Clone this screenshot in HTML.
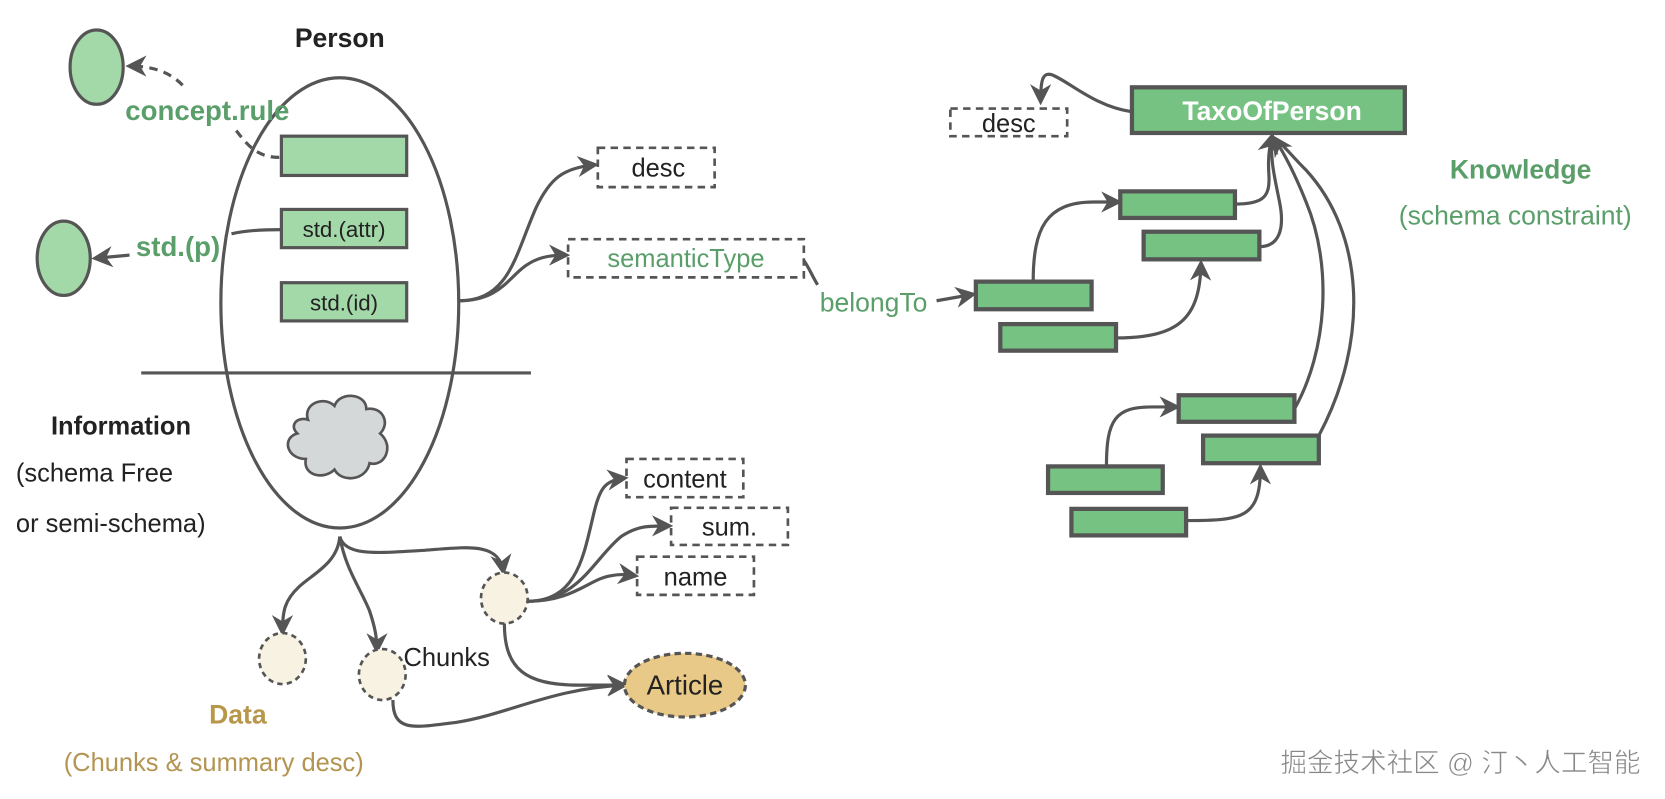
<!DOCTYPE html>
<html><head><meta charset="utf-8"><style>
html,body{margin:0;padding:0;background:#fff;}
svg{display:block;}
text{font-family:"Liberation Sans","Noto Sans CJK SC",sans-serif;}
</style></head><body>
<svg width="1665" height="799" viewBox="0 0 1568 752" xmlns="http://www.w3.org/2000/svg">
<defs>
<marker id="ar" viewBox="0 0 10 10" refX="8" refY="5" markerWidth="20" markerHeight="20" orient="auto" markerUnits="userSpaceOnUse"><path d="M0,0 L10,5 L0,10 L3,5 z" fill="#555"/></marker>
</defs>
<g stroke="#555" stroke-width="3" fill="none">
<ellipse cx="91" cy="63" rx="25" ry="35" fill="#a3d8a8"/>
<ellipse cx="60" cy="243" rx="25" ry="35" fill="#a3d8a8"/>
<path d="M172,80 C160,68 145,62 122,62" stroke-dasharray="8,6" marker-end="url(#ar)"/>
<path d="M263,148 C245,148 235,140 222,122" stroke-dasharray="8,6"/>
<path d="M265,216 C245,216 230,217 218,220"/>
<path d="M122,240 L90,243" marker-end="url(#ar)"/>
<ellipse cx="320" cy="285" rx="112" ry="212" fill="none"/>
<rect x="265" y="128" width="118" height="37" fill="#a3d8a8"/>
<rect x="265" y="197" width="118" height="36" fill="#a3d8a8"/>
<rect x="265" y="266" width="118" height="36" fill="#a3d8a8"/>
<line x1="133" y1="351" x2="500" y2="351"/>
<rect x="563" y="139" width="110" height="37" stroke-dasharray="7,5" stroke-width="2.5"/>
<rect x="535" y="225" width="222" height="36" stroke-dasharray="7,5" stroke-width="2.5"/>
<path d="M432,283 C480,283 485,240 505,195 C518,168 530,158 560,155" marker-end="url(#ar)"/>
<path d="M432,283 C470,283 478,262 495,250 C505,243 515,240 533,240" marker-end="url(#ar)"/>
<path d="M757,245 C762,252 765,260 770,268"/>
<path d="M882,283 L916,277" marker-end="url(#ar)"/>
<path d="M290,395 C285,380 305,372 315,382 C320,368 345,370 345,385 C360,382 368,398 358,408 C372,420 362,440 348,436 C345,452 322,455 315,442 C305,452 285,448 288,432 C270,432 265,412 280,408 C272,400 280,392 290,395 z" fill="#d5d8d8" stroke-width="2.5"/>
<path d="M320,505 C318,530 295,540 282,552 C268,565 266,575 266,595" marker-end="url(#ar)"/>
<path d="M320,505 C325,535 340,555 348,575 C353,590 355,600 355,612" marker-end="url(#ar)"/>
<path d="M320,505 C325,525 360,520 400,518 C440,515 470,510 474,538" marker-end="url(#ar)"/>
<ellipse cx="266" cy="620" rx="22" ry="24" fill="#f7f2e2" stroke-dasharray="5,4" stroke-width="2.5"/>
<ellipse cx="360" cy="635" rx="22" ry="24" fill="#f7f2e2" stroke-dasharray="5,4" stroke-width="2.5"/>
<ellipse cx="475" cy="563" rx="22" ry="24" fill="#f7f2e2" stroke-dasharray="5,4" stroke-width="2.5"/>
<rect x="590" y="432" width="110" height="36" stroke-dasharray="7,5" stroke-width="2.5"/>
<rect x="632" y="478" width="110" height="35" stroke-dasharray="7,5" stroke-width="2.5"/>
<rect x="600" y="524" width="110" height="36" stroke-dasharray="7,5" stroke-width="2.5"/>
<path d="M497,566 C545,566 550,520 560,480 C565,460 570,452 588,450" marker-end="url(#ar)"/>
<path d="M497,566 C545,566 560,525 585,505 C600,495 610,495 630,495" marker-end="url(#ar)"/>
<path d="M497,566 C540,566 555,545 575,542 C585,540 590,541 598,542" marker-end="url(#ar)"/>
<path d="M475,587 C475,630 495,645 545,645 L588,645" marker-end="url(#ar)"/>
<path d="M370,659 C370,690 390,685 430,680 C480,672 520,648 588,645" marker-end="url(#ar)"/>
<ellipse cx="645" cy="645" rx="57" ry="30" fill="#e8c987" stroke-dasharray="6,4"/>
<rect x="1066" y="82" width="257" height="43" fill="#76c283" stroke-width="4"/>
<rect x="895" y="102" width="110" height="26" stroke-dasharray="7,5" stroke-width="2.5"/>
<path d="M1066,105 C1030,100 1005,75 990,70 C982,68 980,75 980,95" marker-end="url(#ar)"/>
<rect x="1055" y="180" width="108" height="25" fill="#76c283" stroke-width="4"/>
<rect x="1077" y="218" width="109" height="26" fill="#76c283" stroke-width="4"/>
<rect x="919" y="265" width="109" height="26" fill="#76c283" stroke-width="4"/>
<rect x="942" y="305" width="109" height="25" fill="#76c283" stroke-width="4"/>
<rect x="1110" y="372" width="109" height="25" fill="#76c283" stroke-width="4"/>
<rect x="1133" y="410" width="109" height="26" fill="#76c283" stroke-width="4"/>
<rect x="987" y="439" width="108" height="25" fill="#76c283" stroke-width="4"/>
<rect x="1009" y="479" width="108" height="25" fill="#76c283" stroke-width="4"/>
<path d="M973,265 C973,215 985,190 1030,190 L1053,190" marker-end="url(#ar)"/>
<path d="M1051,318 C1110,318 1130,300 1131,248" marker-end="url(#ar)"/>
<path d="M1163,192 C1190,192 1196,185 1195,165 C1194,150 1195,140 1198,128" marker-end="url(#ar)"/>
<path d="M1186,232 C1205,232 1210,215 1205,190 C1200,165 1196,150 1198,128"/>
<path d="M1219,385 C1250,330 1255,250 1230,190 C1220,165 1210,145 1200,130" marker-end="url(#ar)"/>
<path d="M1242,410 C1290,320 1285,220 1230,160 C1218,148 1210,138 1203,132"/>
<path d="M1042,439 C1042,395 1050,383 1085,383 L1108,383" marker-end="url(#ar)"/>
<path d="M1117,490 C1170,490 1187,488 1187,440" marker-end="url(#ar)"/>
</g>
<g font-size="24">
<text x="320" y="44" text-anchor="middle" font-weight="bold" font-size="25" fill="#222">Person</text>
<text x="118" y="113" font-weight="bold" font-size="26" fill="#5a9e6a">concept.rule</text>
<text x="128" y="241" font-weight="bold" font-size="26" fill="#5a9e6a">std.(p)</text>
<text x="324" y="223" text-anchor="middle" font-size="21" fill="#222">std.(attr)</text>
<text x="324" y="292" text-anchor="middle" font-size="21" fill="#222">std.(id)</text>
<text x="620" y="166" text-anchor="middle" fill="#222">desc</text>
<text x="646" y="251" text-anchor="middle" fill="#5a9e6a">semanticType</text>
<text x="772" y="293" font-size="25" fill="#5a9e6a">belongTo</text>
<text x="48" y="409" font-weight="bold" font-size="24" fill="#222">Information</text>
<text x="15" y="453" fill="#222">(schema Free</text>
<text x="15" y="501" fill="#222">or semi-schema)</text>
<text x="645" y="459" text-anchor="middle" fill="#222">content</text>
<text x="687" y="504" text-anchor="middle" fill="#222">sum.</text>
<text x="655" y="551" text-anchor="middle" fill="#222">name</text>
<text x="380" y="627" fill="#222">Chunks</text>
<text x="645" y="654" text-anchor="middle" font-size="26" fill="#222">Article</text>
<text x="224" y="681" text-anchor="middle" font-weight="bold" font-size="25" fill="#b8964a">Data</text>
<text x="60" y="726" fill="#b39451">(Chunks &amp; summary desc)</text>
<text x="1198" y="113" text-anchor="middle" font-weight="bold" font-size="25" fill="#fff">TaxoOfPerson</text>
<text x="950" y="124" text-anchor="middle" fill="#222">desc</text>
<text x="1432" y="168" text-anchor="middle" font-weight="bold" font-size="25" fill="#5a9e6a">Knowledge</text>
<text x="1427" y="211" text-anchor="middle" fill="#5a9e6a" font-size="25">(schema constraint)</text>
<text x="1545" y="727" text-anchor="end" font-size="25" fill="#888" stroke="#fff" stroke-width="0.5">掘金技术社区 @ 汀丶人工智能</text>
</g>
</svg>
</body></html>
